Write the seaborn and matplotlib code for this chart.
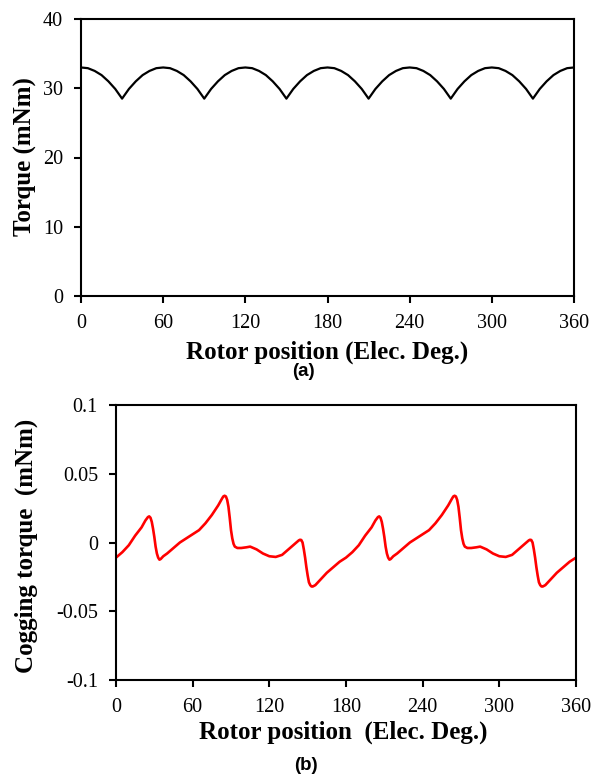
import numpy as np
import pandas as pd
import matplotlib
matplotlib.use("Agg")
import matplotlib.pyplot as plt
import seaborn as sns

# ---- Data ----
torque_x = list(range(0, 361, 5))
torque_y = [33.0, 32.9, 32.5, 31.9, 31.0, 29.9, 28.5, 29.9, 31.0, 31.9, 32.5, 32.9,
            33.0, 32.9, 32.5, 31.9, 31.0, 29.9, 28.5, 29.9, 31.0, 31.9, 32.5, 32.9,
            33.0, 32.9, 32.5, 31.9, 31.0, 29.9, 28.5, 29.9, 31.0, 31.9, 32.5, 32.9,
            33.0, 32.9, 32.5, 31.9, 31.0, 29.9, 28.5, 29.9, 31.0, 31.9, 32.5, 32.9,
            33.0, 32.9, 32.5, 31.9, 31.0, 29.9, 28.5, 29.9, 31.0, 31.9, 32.5, 32.9,
            33.0, 32.9, 32.5, 31.9, 31.0, 29.9, 28.5, 29.9, 31.0, 31.9, 32.5, 32.9,
            33.0]

cog_x = [0, 5, 10, 15, 20, 23, 25, 26, 27, 28, 29, 30, 31, 32, 33, 34, 35, 37, 40, 45,
         50, 55, 60, 65, 70, 75, 80, 83, 84, 85, 86, 87, 88, 89, 90, 91, 92, 93, 95, 98,
         102, 105, 110, 115, 120, 125, 130, 135, 140, 143, 144, 145, 146, 147, 148, 149,
         150, 151, 152, 153, 154, 156, 160, 165, 170, 175,
         180, 185, 190, 195, 200, 203, 205, 206, 207, 208, 209, 210, 211, 212, 213, 214,
         215, 217, 220, 225, 230, 235, 240, 245, 250, 255, 260, 263, 264, 265, 266, 267,
         268, 269, 270, 271, 272, 273, 275, 278, 282, 285, 290, 295, 300, 305, 310, 315,
         320, 323, 324, 325, 326, 327, 328, 329, 330, 331, 332, 333, 334, 336, 340, 345,
         350, 355, 360]
cog_y = [-0.011, -0.007, -0.002, 0.005, 0.011, 0.016, 0.0185, 0.019, 0.018, 0.015, 0.010,
         0.004, -0.003, -0.008, -0.011, -0.0125, -0.012, -0.010, -0.008, -0.004,
         0.000, 0.003, 0.006, 0.009, 0.014, 0.020, 0.027, 0.032, 0.0335, 0.034, 0.0335,
         0.031, 0.026, 0.018, 0.009, 0.003, -0.001, -0.003, -0.004, -0.004,
         -0.0035, -0.003, -0.005, -0.008, -0.010, -0.0105, -0.009, -0.005, -0.001, 0.0015,
         0.002, 0.0018, 0.000, -0.005, -0.011, -0.018,
         -0.024, -0.029, -0.031, -0.032, -0.032, -0.031, -0.027, -0.022, -0.018, -0.014,
         -0.011, -0.007, -0.002, 0.005, 0.011, 0.016, 0.0185, 0.019, 0.018, 0.015, 0.010,
         0.004, -0.003, -0.008, -0.011, -0.0125,
         -0.012, -0.010, -0.008, -0.004, 0.000, 0.003, 0.006, 0.009, 0.014, 0.020, 0.027,
         0.032, 0.0335, 0.034, 0.0335, 0.031,
         0.026, 0.018, 0.009, 0.003, -0.001, -0.003, -0.004, -0.004, -0.0035, -0.003,
         -0.005, -0.008, -0.010, -0.0105, -0.009, -0.005,
         -0.001, 0.0015, 0.002, 0.0018, 0.000, -0.005, -0.011, -0.018, -0.024, -0.029,
         -0.031, -0.032, -0.032, -0.031, -0.027, -0.022,
         -0.018, -0.014, -0.011]

x_ticks = [0, 60, 120, 180, 240, 300, 360]
torque_ticks = [0, 10, 20, 30, 40]
cog_ticks = [-0.1, -0.05, 0, 0.05, 0.1]
cog_ticklabels = ["-0.1", "-0.05", "0", "0.05", "0.1"]

sns.set_style("ticks")
plt.rcParams["font.family"] = ["Liberation Serif", "DejaVu Serif"]
for k in ("text.color", "axes.labelcolor", "xtick.color", "ytick.color", "axes.edgecolor"):
    plt.rcParams[k] = "black"

fig = plt.figure(figsize=(5.96, 7.75), dpi=100)

ax1 = fig.add_axes([81/596, 1-296/775, (574-81)/596, (296-19)/775])
ax2 = fig.add_axes([116/596, 1-680/775, (576-116)/596, (680-405)/775])

df1 = pd.DataFrame({"x": torque_x, "y": torque_y})
df2 = pd.DataFrame({"x": cog_x, "y": cog_y})

sns.lineplot(data=df1, x="x", y="y", ax=ax1, color="black", linewidth=1.6, sort=False)
sns.lineplot(data=df2, x="x", y="y", ax=ax2, color="#ff0000", linewidth=1.9, sort=False)

for ax in (ax1, ax2):
    for s in ax.spines.values():
        s.set_linewidth(1.5)
        s.set_color("black")
        s.set_visible(True)
    ax.set_xlim(0, 360)
    ax.set_xticks(x_ticks)
    ax.tick_params(axis="both", direction="out", length=5, width=1.5,
                   labelsize=14.5, colors="black", pad=8)

ax1.set_ylim(0, 40)
ax1.set_yticks(torque_ticks)
ax2.set_ylim(-0.1, 0.1)
ax2.set_yticks(cog_ticks)
ax2.set_yticklabels(cog_ticklabels)

lab = dict(fontsize=18, fontweight="bold")
ax1.set_xlabel("Rotor position (Elec. Deg.)", **lab)
ax1.set_ylabel("Torque (mNm)", **lab)
ax2.set_xlabel("Rotor position  (Elec. Deg.)", **lab)
ax2.set_ylabel("Cogging torque  (mNm)", **lab)

for ax in (ax1, ax2):
    ax.xaxis.label.set_va("center")
    ax.yaxis.label.set_va("center")

ax1.xaxis.set_label_coords(0.5, -0.202)
ax1.yaxis.set_label_coords(-0.1136, 0.505)
ax2.xaxis.set_label_coords((343.5-116)/460, -0.189)
ax2.yaxis.set_label_coords(-0.1957, 0.487)

fig.text(303/596, 1-372/775, "(a)", ha="center", va="center", fontsize=13.5,
         fontweight="bold", family=["Liberation Sans", "DejaVu Sans"])
fig.text(306/596, 1-765/775, "(b)", ha="center", va="center", fontsize=13.5,
         fontweight="bold", family=["Liberation Sans", "DejaVu Sans"])

fig.savefig("out.png", dpi=100)
